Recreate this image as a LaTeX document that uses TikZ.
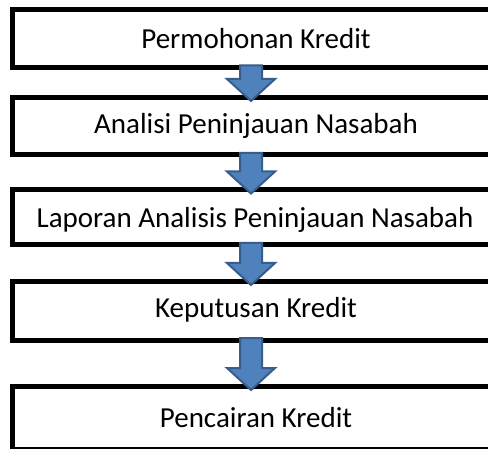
\documentclass[tikz,border=0pt]{standalone}
\usepackage{fontspec}
\setmainfont{Carlito}
\usetikzlibrary{calc}
\definecolor{arrowfill}{HTML}{4F81BD}
\definecolor{arrowline}{HTML}{385D8A}
\tikzset{
  stagebox/.style={draw=black, line width=5pt, fill=white, outer sep=0pt,
    minimum width=500pt, inner sep=0pt, font=\fontsize{29}{34}\selectfont},
  blockarrow/.style={fill=arrowfill, draw=arrowline, line width=2pt, line join=miter}
}
% block arrow pointing down from the bottom of #1 to the top of #2
\newcommand\flowarrow[2]{%
  \filldraw[blockarrow] let \p1=(#1.south), \p2=(#2.north) in
    (240,{\y1+2}) -- (262,{\y1+2}) -- (262,{\y2-3.5+22}) -- (275,{\y2-3.5+22})
    -- (251,{\y2-3.5}) -- (227,{\y2-3.5+22}) -- (240,{\y2-3.5+22}) -- cycle;}
\begin{document}
\begin{tikzpicture}[x=1pt,y=1pt]
  \useasboundingbox (0,0) rectangle (488,448);
  % boxes run past the right edge of the page
  \begin{scope}[xshift=7.5pt]
  \node[stagebox, minimum height=58pt]   (b1) at (255,409.5)  {};
  \node[stagebox, minimum height=57.5pt] (b2) at (255,321.75) {};
  \node[stagebox, minimum height=55pt]   (b3) at (255,230.5)  {};
  \node[stagebox, minimum height=58.5pt] (b4) at (255,137.25) {};
  \node[stagebox, minimum height=62.5pt] (b5) at (255,30.25)  {};
  \end{scope}
  \node[font=\fontsize{29}{34}\selectfont] (t1) at (256,409.5)  {Permohonan Kredit};
  \node[font=\fontsize{29}{34}\selectfont] (t2) at (256,321.75) {Analisi Peninjauan Nasabah};
  \node[font=\fontsize{29}{34}\selectfont] (t3) at (255,228.5)  {Laporan Analisis Peninjauan Nasabah};
  \node[font=\fontsize{29}{34}\selectfont] (t4) at (256,138.25) {Keputusan Kredit};
  \node[font=\fontsize{29}{34}\selectfont] (t5) at (256,30.25)  {Pencairan Kredit};
  \flowarrow{b1}{b2}
  \flowarrow{b2}{b3}
  \flowarrow{b3}{b4}
  \flowarrow{b4}{b5}
\end{tikzpicture}
\end{document}
